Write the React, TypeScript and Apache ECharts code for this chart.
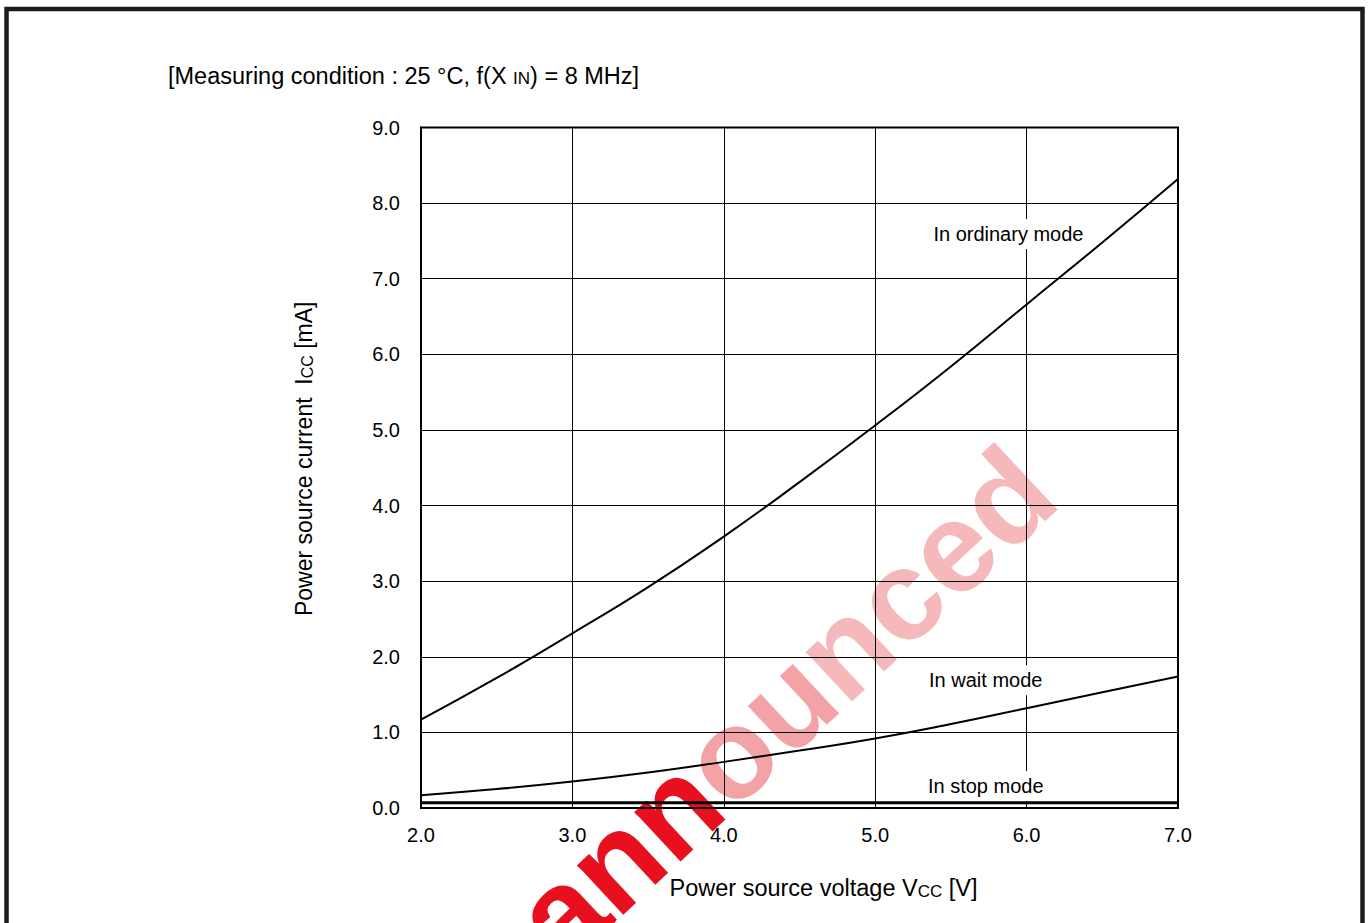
import React, { useEffect, useRef } from "react";
import * as echarts from "echarts";

// Power source voltage Vcc [V]
const voltage = [2.0, 2.5, 3.0, 3.5, 4.0, 4.5, 5.0, 5.5, 6.0, 6.5, 7.0];
// Power source current Icc [mA]
const ordinaryMode = [1.17, 1.72, 2.31, 2.92, 3.59, 4.31, 5.06, 5.84, 6.66, 7.48, 8.32];
const waitMode = [0.17, 0.25, 0.35, 0.47, 0.61, 0.76, 0.92, 1.11, 1.32, 1.53, 1.74];
const stopMode = [0.07, 0.07, 0.07, 0.07, 0.07, 0.07, 0.07, 0.07, 0.07, 0.07, 0.07];

const seriesNames = ["In ordinary mode", "In wait mode", "In stop mode"];
const titleText = "[Measuring condition : 25 °C, f(X {s|IN}) = 8 MHz]";
const xName = "Power source voltage V{s|CC} [V]";
const yName = "Power source current  I{s|CC} [mA]";
// watermark, split into fading parts
const watermarkParts = ["ann", "ou", "nced"];
const watermarkColors = ["#e8101e", "#f3a3a6", "#f6b9bb"];

const FONT = '"Liberation Sans", Arial, Helvetica, sans-serif';

export default function App() {
  const ref = useRef<HTMLDivElement>(null);

  useEffect(() => {
    const chart = echarts.init(ref.current!, null, { renderer: "svg" });
    const pts = (ys: number[]) => voltage.map((v, i) => [v, ys[i]]);
    const labelStyle = {
      show: true,
      position: "inside",
      color: "#000",
      fontSize: 20,
      fontFamily: FONT,
      backgroundColor: "#fff",
      padding: [5, 3],
    };
    const mark = (name: string, x: number, y: number) => ({
      symbol: "rect",
      symbolSize: 0,
      silent: true,
      label: { ...labelStyle, formatter: name },
      data: [{ coord: [x, y] }],
    });

    // watermark layout: measure parts so they sit on one rotated baseline
    const wmFont = `bold 128px ${FONT}`;
    const ctx = document.createElement("canvas").getContext("2d")!;
    ctx.font = wmFont;
    const widths = watermarkParts.map((p) => ctx.measureText(p).width);
    const total = widths.reduce((a, b) => a + b, 0);
    let acc = -total / 2;
    const wmChildren = watermarkParts.map((p, i) => {
      const el = {
        type: "text",
        x: acc,
        y: 0,
        silent: true,
        style: {
          text: p,
          font: wmFont,
          textAlign: "left",
          textVerticalAlign: "middle",
          fill: watermarkColors[i],
        },
      };
      acc += widths[i];
      return el;
    });

    chart.setOption({
      animation: false,
      backgroundColor: "#fff",
      textStyle: { fontFamily: FONT },
      title: {
        text: titleText,
        left: 163,
        top: 59,
        textStyle: {
          fontSize: 23.5,
          fontWeight: "normal",
          color: "#000",
          fontFamily: FONT,
          rich: {
            s: { fontSize: 17, color: "#000", fontFamily: FONT, verticalAlign: "bottom", padding: [0, 0, 1, 0] },
          },
        },
      },
      grid: {
        left: 421,
        right: 192,
        top: 127.5,
        bottom: 115,
        show: true,
        borderColor: "#000",
        borderWidth: 2,
      },
      xAxis: {
        type: "value",
        min: 2,
        max: 7,
        interval: 1,
        axisLine: { show: true, lineStyle: { color: "#000", width: 2 } },
        axisTick: { show: false },
        splitLine: { show: true, lineStyle: { color: "#000", width: 1 } },
        axisLabel: {
          color: "#000",
          fontSize: 20,
          margin: 17,
          fontFamily: FONT,
          formatter: (v: number) => v.toFixed(1),
        },
        name: xName,
        nameLocation: "middle",
        nameGap: 68,
        nameTextStyle: {
          color: "#000",
          fontSize: 23.5,
          fontFamily: FONT,
          padding: [0, 0, 0, 48],
          rich: { s: { fontSize: 17, color: "#000", fontFamily: FONT, verticalAlign: "bottom" } },
        },
      },
      yAxis: {
        type: "value",
        min: 0,
        max: 9,
        interval: 1,
        axisLine: { show: true, lineStyle: { color: "#000", width: 2 } },
        axisTick: { show: false },
        splitLine: { show: true, lineStyle: { color: "#000", width: 1 } },
        axisLabel: {
          color: "#000",
          fontSize: 20,
          margin: 21,
          fontFamily: FONT,
          formatter: (v: number) => v.toFixed(1),
        },
        name: yName,
        nameLocation: "middle",
        nameRotate: 90,
        nameGap: 106,
        nameTextStyle: {
          color: "#000",
          fontSize: 23,
          fontFamily: FONT,
          padding: [0, 0, 0, 18],
          rich: { s: { fontSize: 16, color: "#000", fontFamily: FONT, verticalAlign: "bottom" } },
        },
      },
      graphic: [
        {
          type: "group",
          x: 784,
          y: 704,
          rotation: (43 * Math.PI) / 180,
          z: -10,
          silent: true,
          children: wmChildren,
        },
        {
          type: "rect",
          z: 100,
          silent: true,
          shape: { x: 6.5, y: 9, width: 1356, height: 940 },
          style: { fill: "none", stroke: "#1c1c1c", lineWidth: 4.5 },
        },
      ],
      series: [
        {
          name: seriesNames[0],
          type: "line",
          data: pts(ordinaryMode),
          smooth: true,
          symbol: "none",
          lineStyle: { color: "#000", width: 2 },
          z: 5,
          markPoint: mark(seriesNames[0], 5.88, 7.59),
        },
        {
          name: seriesNames[1],
          type: "line",
          data: pts(waitMode),
          smooth: true,
          symbol: "none",
          lineStyle: { color: "#000", width: 2 },
          z: 5,
          markPoint: mark(seriesNames[1], 5.73, 1.69),
        },
        {
          name: seriesNames[2],
          type: "line",
          data: pts(stopMode),
          symbol: "none",
          lineStyle: { color: "#000", width: 3 },
          z: 5,
          markPoint: mark(seriesNames[2], 5.73, 0.29),
        },
      ],
    });
    return () => chart.dispose();
  }, []);

  return (
    <div
      ref={ref}
      style={{ position: "fixed", left: 0, top: 0, width: 1370, height: 923, background: "#fff" }}
    />
  );
}
